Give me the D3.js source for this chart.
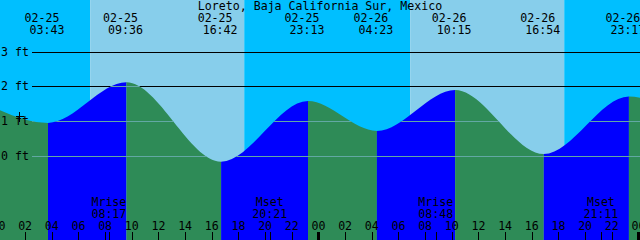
<!DOCTYPE html>
<html lang="en">
<head>
<meta charset="UTF-8">
<title>Loreto tide chart</title>
<style>
    html, body { margin: 0; padding: 0; background: #fff; }
    svg { display: block; }
    text { font-family: "DejaVu Sans Mono", "Liberation Mono", monospace; font-size: 11.6px; fill: #000; }
</style>
</head>
<body>
<svg id="chart" width="640" height="240"></svg>
<script src="https://cdnjs.cloudflare.com/ajax/libs/d3/7.8.5/d3.min.js"></script>
<script>
// tide extremes (first and last are just off the chart edges)
const tideTimes = ["02-24 22:36", "02-25 03:43", "02-25 09:36", "02-25 16:42", "02-25 23:13",
                   "02-26 04:23", "02-26 10:15", "02-26 16:54", "02-26 23:17", "02-27 04:50"];
const tideHeights = [1.58, 0.94, 2.11, -0.18, 1.57, 0.71, 1.89, 0.04, 1.70, 0.60];
const labelled = [1, 2, 3, 4, 5, 6, 7, 8];

const sunTimes = ["02-25 06:53", "02-25 18:26", "02-26 06:53", "02-26 18:26"];
const moonTimes = ["02-25 08:17", "02-25 20:21", "02-26 08:48", "02-26 21:11"];
const moonLabels = ["Mrise", "Mset", "Mrise", "Mset"];
const levels = [0, 1, 2, 3];
const markTime = "02-25 01:34";
const markLevel = 1.15;
const title = "Loreto, Baja California Sur, Mexico";

const W = 640, H = 240;
const parse = d3.timeParse("%m-%d %H:%M");
const t0 = parse("02-25 00:07"), t1 = parse("02-27 00:07");

const x = d3.scaleTime().domain([t0, t1]).range([0, W]);
const y = d3.scaleLinear().domain([0, 3]).range([155.5, 51.5]);

const svg = d3.select("#chart");
const tide = tideTimes.map((t, i) => ({ t: parse(t), h: tideHeights[i] }));

// sky: night / day bands
const bounds = [t0, ...sunTimes.map(parse), t1];
svg.append("g").selectAll("rect")
    .data(d3.pairs(bounds))
    .join("rect")
    .attr("x", d => x(d[0]))
    .attr("width", d => x(d[1]) - x(d[0]))
    .attr("y", 0).attr("height", H)
    .attr("fill", (d, i) => i % 2 === 0 ? "#00bfff" : "#87ceeb");

const water = d3.area().x(d => x(d.t)).y0(H).y1(d => y(d.h)).curve(d3.curveMonotoneX);
const sky = d3.area().x(d => x(d.t)).y0(0).y1(d => y(d.h)).curve(d3.curveMonotoneX);

const defs = svg.append("defs");
defs.append("clipPath").attr("id", "water").append("path").attr("d", water(tide));
defs.append("clipPath").attr("id", "sky").append("path").attr("d", sky(tide));

// flood (rising) blue, ebb (falling) green
svg.append("g").attr("clip-path", "url(#water)").selectAll("rect")
    .data(d3.pairs(tide))
    .join("rect")
    .attr("x", d => x(d[0].t))
    .attr("width", d => x(d[1].t) - x(d[0].t))
    .attr("y", 0).attr("height", H)
    .attr("fill", d => d[1].h > d[0].h ? "#0000ff" : "#2e8b57");

// level lines
const lineG = svg.append("g").attr("shape-rendering", "crispEdges");
lineG.append("g").attr("clip-path", "url(#sky)").selectAll("line")
    .data(levels.filter(d => d >= 2))
    .join("line")
    .attr("x1", 32).attr("x2", W)
    .attr("y1", d => Math.round(y(d)) + 0.5).attr("y2", d => Math.round(y(d)) + 0.5)
    .attr("stroke", "#000");
lineG.append("g").attr("clip-path", "url(#water)").selectAll("line")
    .data(levels)
    .join("line")
    .attr("x1", 32).attr("x2", W)
    .attr("y1", d => Math.round(y(d)) + 0.5).attr("y2", d => Math.round(y(d)) + 0.5)
    .attr("stroke", "#62a8a4");

svg.append("g").selectAll("text")
    .data(levels)
    .join("text")
    .attr("x", 1).attr("y", d => y(d) + 4)
    .text(d => d + " ft");

// title and tide event labels
svg.append("text").attr("x", 320).attr("y", 9.5).attr("text-anchor", "middle").text(title);

const ev = svg.append("g").attr("text-anchor", "middle");
labelled.forEach(i => {
    const d = tide[i];
    ev.append("text").attr("x", x(d.t) - 6).attr("y", 21.5).text(d3.timeFormat("%m-%d")(d.t));
    ev.append("text").attr("x", x(d.t) - 1).attr("y", 34).text(d3.timeFormat("%H:%M")(d.t));
});

// moon labels
const moon = moonTimes.map((t, i) => ({ t: parse(t), label: moonLabels[i] }));
const mg = svg.append("g").attr("text-anchor", "middle");
moon.forEach(d => {
    mg.append("text").attr("x", x(d.t)).attr("y", 206).text(d.label);
    mg.append("text").attr("x", x(d.t)).attr("y", 217.5).text(d3.timeFormat("%H:%M")(d.t));
});

// hour ticks along the bottom
const hours = d3.timeHour.every(2).range(parse("02-24 22:00"), parse("02-27 02:00"));
const ticks = svg.append("g").attr("shape-rendering", "crispEdges");
ticks.selectAll("line.hr")
    .data(hours)
    .join("line")
    .attr("class", "hr")
    .attr("x1", d => Math.round(x(d)) + 0.5).attr("x2", d => Math.round(x(d)) + 0.5)
    .attr("y1", 232).attr("y2", H)
    .attr("stroke", "#000")
    .attr("stroke-width", d => d.getHours() === 0 ? 3 : 1);
ticks.selectAll("line.moon")
    .data(moon)
    .join("line")
    .attr("class", "moon")
    .attr("x1", d => Math.round(x(d.t)) + 0.5).attr("x2", d => Math.round(x(d.t)) + 0.5)
    .attr("y1", 232).attr("y2", H)
    .attr("stroke", "#000");
svg.append("g").attr("text-anchor", "middle").selectAll("text")
    .data(hours)
    .join("text")
    .attr("x", d => x(d)).attr("y", 230)
    .text(d3.timeFormat("%H"));

// small cross mark
const mx = Math.round(x(parse(markTime))) + 0.5, my = Math.round(y(markLevel)) + 0.5;
const mark = svg.append("g").attr("stroke", "#000").attr("shape-rendering", "crispEdges");
mark.append("line").attr("x1", mx).attr("x2", mx).attr("y1", my - 5).attr("y2", my + 5);
mark.append("line").attr("x1", mx - 4).attr("x2", mx + 4).attr("y1", my).attr("y2", my);
</script>
</body>
</html>
